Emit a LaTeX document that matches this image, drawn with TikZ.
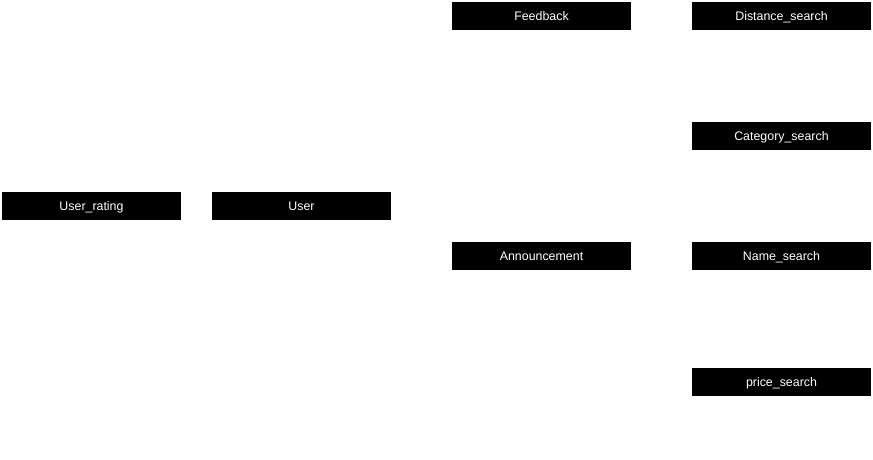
\documentclass[tikz,border=0pt]{standalone}
\usepackage{fontspec}
\setmainfont{Liberation Sans}
\begin{document}
\begin{tikzpicture}[x=1pt,y=-1pt,
  entbox/.style={fill=black,draw=none,text=white,minimum width=179pt,minimum height=28pt,inner sep=0pt,text height=10pt,text depth=1.6pt,font=\fontsize{12.4}{14}\selectfont}]
\useasboundingbox (0,0) rectangle (873,459);
\node[entbox] (userrating) at (91.5,206) {User\_rating};
\node[entbox] (user) at (301.5,206) {User};
\node[entbox] (feedback) at (541.5,16) {Feedback};
\node[entbox] (distance) at (781.5,16) {Distance\_search};
\node[entbox] (category) at (781.5,136) {Category\_search};
\node[entbox] (announcement) at (541.5,256) {Announcement};
\node[entbox] (name) at (781.5,256) {Name\_search};
\node[entbox] (price) at (781.5,382) {price\_search};
\end{tikzpicture}
\end{document}
